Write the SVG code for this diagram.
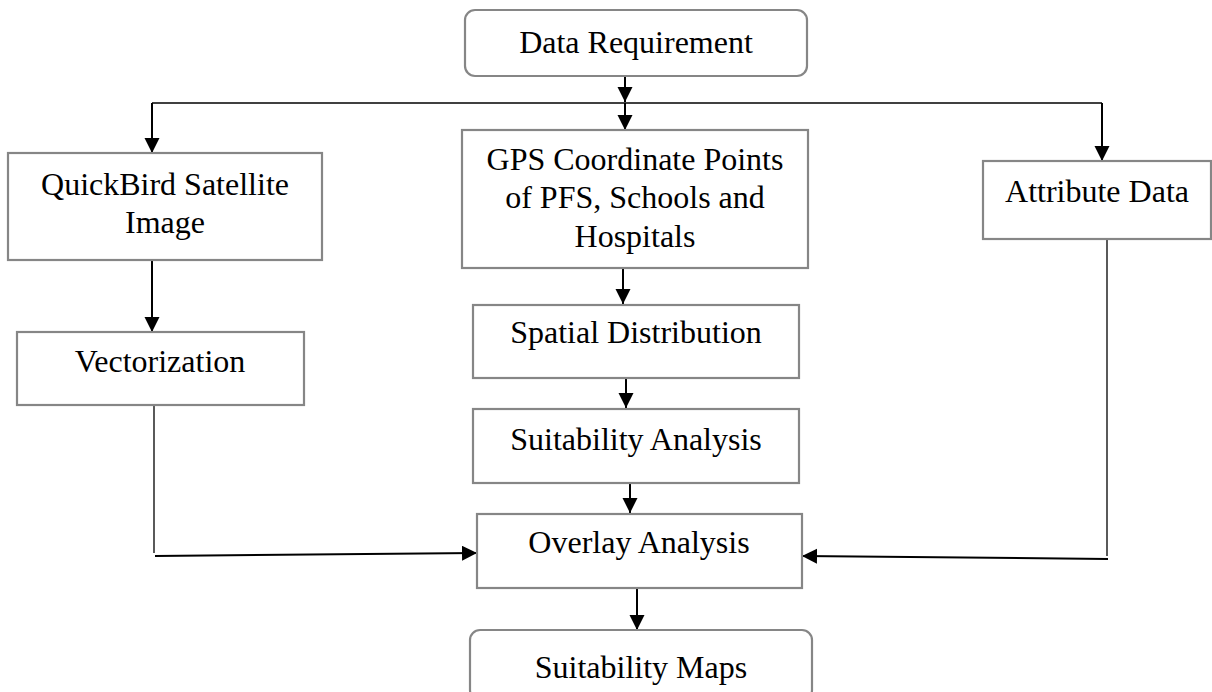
<svg xmlns="http://www.w3.org/2000/svg" width="1212" height="692" viewBox="0 0 1212 692">
<style>
.box{fill:#fff;stroke:#868686;stroke-width:2.2}
.t{font-family:"Liberation Serif","Times New Roman",serif;font-size:32px;fill:#000;text-anchor:middle}
.c{fill:none;stroke:#000;stroke-width:2}
.thin{fill:none;stroke:#000;stroke-width:1.3}
</style>
<defs>
<marker id="ah" markerUnits="userSpaceOnUse" markerWidth="16" markerHeight="16" refX="15" refY="7.5" orient="auto">
<path d="M0,0 L15,7.5 L0,15 Z" fill="#000"/>
</marker>
</defs>
<rect width="1212" height="692" fill="#fff"/>
<g id="connectors">
<line class="c" x1="625" y1="76" x2="625" y2="102" marker-end="url(#ah)"/>
<path class="thin" d="M152,103 H1102"/>
<line class="c" x1="625" y1="103" x2="625" y2="130" marker-end="url(#ah)"/>
<line class="c" x1="152" y1="103" x2="152" y2="153" marker-end="url(#ah)"/>
<line class="c" x1="1102" y1="103" x2="1102" y2="161" marker-end="url(#ah)"/>
<line class="c" x1="152" y1="260" x2="152" y2="332" marker-end="url(#ah)"/>
<line class="c" x1="623" y1="268" x2="623" y2="304" marker-end="url(#ah)"/>
<line class="c" x1="626" y1="378" x2="626" y2="408" marker-end="url(#ah)"/>
<line class="c" x1="630" y1="483" x2="630" y2="513" marker-end="url(#ah)"/>
<line class="c" x1="637" y1="588" x2="637" y2="630" marker-end="url(#ah)"/>
<path class="thin" d="M154,405 V553"/>
<line class="c" x1="155" y1="556" x2="477" y2="553" marker-end="url(#ah)"/>
<path class="thin" d="M1107,239 V556"/>
<line class="c" x1="1108" y1="559" x2="802" y2="556" marker-end="url(#ah)"/>
</g>
<g id="data-requirement">
<rect class="box" x="465" y="10" width="342" height="66" rx="10"/>
<text class="t" x="636" y="53">Data Requirement</text>
</g>
<g id="quickbird">
<rect class="box" x="8" y="153" width="314" height="107"/>
<text class="t" x="165" y="195">QuickBird Satellite</text>
<text class="t" x="165" y="233">Image</text>
</g>
<g id="gps">
<rect class="box" x="462" y="130" width="346" height="138"/>
<text class="t" x="635" y="170">GPS Coordinate Points</text>
<text class="t" x="635" y="208">of PFS, Schools and</text>
<text class="t" x="635" y="247">Hospitals</text>
</g>
<g id="attribute-data">
<rect class="box" x="983" y="161" width="228" height="78"/>
<text class="t" x="1097" y="202">Attribute Data</text>
</g>
<g id="vectorization">
<rect class="box" x="17" y="332" width="287" height="73"/>
<text class="t" x="160" y="372">Vectorization</text>
</g>
<g id="spatial-distribution">
<rect class="box" x="473" y="305" width="326" height="73"/>
<text class="t" x="636" y="343">Spatial Distribution</text>
</g>
<g id="suitability-analysis">
<rect class="box" x="473" y="409" width="326" height="74"/>
<text class="t" x="636" y="450">Suitability Analysis</text>
</g>
<g id="overlay-analysis">
<rect class="box" x="477" y="514" width="325" height="74"/>
<text class="t" x="639" y="553">Overlay Analysis</text>
</g>
<g id="suitability-maps">
<rect class="box" x="470" y="630" width="342" height="70" rx="10"/>
<text class="t" x="641" y="678">Suitability Maps</text>
</g>
</svg>
